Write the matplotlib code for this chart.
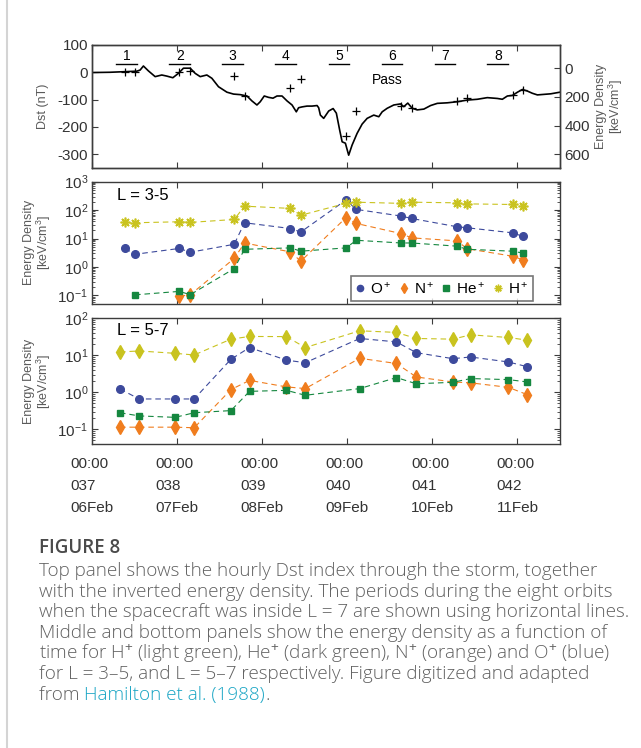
import numpy as np
import matplotlib
matplotlib.use("Agg")
import matplotlib.pyplot as plt
from matplotlib.lines import Line2D
from matplotlib.ticker import LogLocator, NullFormatter

plt.rcParams["font.family"] = ["Liberation Sans", "DejaVu Sans"]
plt.rcParams["mathtext.fontset"] = "custom"
plt.rcParams["mathtext.rm"] = "Liberation Sans"
plt.rcParams["mathtext.it"] = "Liberation Sans:italic"
plt.rcParams["mathtext.bf"] = "Liberation Sans:bold"
plt.rcParams["axes.unicode_minus"] = False

# ---- time axis (fractional day of year, 1988) ----
day_ticks = [37, 38, 39, 40, 41, 42]
doy_labels = ["037", "038", "039", "040", "041", "042"]
date_labels = ["06Feb", "07Feb", "08Feb", "09Feb", "10Feb", "11Feb"]

# ---- Dst index (nT) ----
dst_t = [37.000, 37.208, 37.523, 37.562, 37.601, 37.660, 37.739, 37.817, 37.876,
         37.947, 38.013, 38.072, 38.151, 38.210, 38.269, 38.347, 38.406, 38.484,
         38.583, 38.661, 38.740, 38.819, 38.877, 38.936, 38.975, 39.022, 39.073,
         39.125, 39.172, 39.231, 39.290, 39.349, 39.399, 39.426, 39.466, 39.525,
         39.584, 39.643, 39.662, 39.682, 39.721, 39.780, 39.832, 39.870, 39.909,
         39.938, 39.976, 40.015, 40.055, 40.114, 40.173, 40.232, 40.310, 40.369,
         40.409, 40.468, 40.545, 40.624, 40.663, 40.710, 40.762, 40.821, 40.899,
         40.978, 41.057, 41.174, 41.292, 41.410, 41.528, 41.645, 41.763, 41.822,
         41.881, 41.940, 42.000, 42.058, 42.117, 42.175, 42.234, 42.312, 42.391,
         42.500]
dst_nt = [-1, 0, 4, 8, 23, 5, -16, -10, -14,
          -20, -4, 15, 15, -4, -16, -10, -22, -53,
          -73, -80, -82, -87, -105, -120, -108, -87, -92,
          -95, -87, -87, -105, -120, -145, -130, -127, -124,
          -124, -122, -130, -157, -169, -142, -133, -150, -212,
          -255, -260, -304, -267, -224, -190, -169, -157, -163,
          -145, -132, -120, -116, -126, -113, -132, -138, -135,
          -122, -114, -112, -108, -102, -99, -93, -96, -99,
          -87, -85, -73, -63, -69, -77, -83, -81, -79,
          -73]

# ---- orbit passes inside L = 7 ----
pass_start = [37.279, 37.907, 38.531, 39.152, 39.780, 40.409, 41.025, 41.645]
pass_end = [37.530, 38.151, 38.771, 39.399, 40.020, 40.645, 41.270, 41.893]
pass_names = ["1", "2", "3", "4", "5", "6", "7", "8"]

# ---- L = 3-5 energy densities (keV/cm^3) ----
t_mid = [37.385, 37.503, 38.025, 38.151, 38.669, 38.790, 39.329, 39.452,
         39.982, 40.106, 40.630, 40.754, 41.290, 41.407, 41.943, 42.061]
o_mid = [4.5, 2.8, 4.5, 3.3, 6.3, 36, 22.6, 17, 226, 106, 62, 51, 26, 24, 15.9, 12]
n_mid = [np.nan, np.nan, 0.095, 0.105, 2.0, 7.0, 3.4, 1.6, 54, 34, 15, 10.6, 8.3, 4.4, 2.4, 1.8]
he_mid = [np.nan, 0.105, 0.139, 0.106, 0.88, 4.2, 4.7, 3.6, 4.7, 8.7, 7.0, 7.0, 5.4, 4.2, 3.6, 3.1]
h_mid = [37, 36, 39, 37, 47, 138, 115, 66, 173, 190, 173, 190, 181, 166, 158, 138]

# total energy density plotted (inverted) over Dst
ed_total = [28, 24, 28, 19, 54, 193, 140, 77, 470, 298, 263, 275, 228, 205, 186, 151]

# ---- L = 5-7 energy densities (keV/cm^3) ----
t_bot = [37.326, 37.550, 37.974, 38.198, 38.630, 38.849, 39.282, 39.505,
         40.145, 40.577, 40.809, 41.240, 41.449, 41.893, 42.117]
h_bot = [12.3, 13.1, 11.3, 10.2, 27.3, 32.3, 32, 16.2, 46, 41.5, 28.5, 27.3, 35.7, 30.3, 25.6]
o_bot = [1.23, 0.66, 0.66, 0.66, 7.8, 16.2, 7.4, 6.3, 28.5, 23, 11.8, 8.1, 9.0, 6.6, 4.9]
n_bot = [0.114, 0.114, 0.114, 0.11, 1.18, 2.1, 1.4, 1.26, 8.3, 6.0, 2.6, 1.9, 1.8, 1.36, 0.86]
he_bot = [0.28, 0.23, 0.21, 0.28, 0.32, 1.06, 1.13, 0.83, 1.26, 2.5, 1.7, 1.86, 2.35, 2.2, 1.9]

C_O = "#3d4a9c"
C_N = "#f07d1e"
C_HE = "#15873f"
C_H = "#c9c31f"
AX_COL = "#3c3c3c"
LBL_COL = "#5a5a5a"

XLIM = (37.0, 42.5)
DASH = (5, 3.5)

fig = plt.figure(figsize=(6.41, 7.48), dpi=100)
W, H = 641.0, 748.0


def rect(x0, x1, top, bottom):
    return [x0 / W, 1 - bottom / H, (x1 - x0) / W, (bottom - top) / H]


def style(ax, right=True):
    for s in ax.spines.values():
        s.set_color(AX_COL)
        s.set_linewidth(1.0)
    ax.tick_params(which="both", direction="in", top=True, right=right,
                   color=AX_COL, labelcolor="#333333", labelsize=11, pad=3)
    ax.tick_params(which="major", length=4)
    ax.tick_params(which="minor", length=2)
    ax.set_xlim(*XLIM)
    ax.set_xticks(day_ticks)


ax0 = fig.add_axes(rect(92.3, 560, 45, 168))
ax1 = fig.add_axes(rect(92.3, 560, 181.7, 304))
ax2 = fig.add_axes(rect(92.3, 560, 318.3, 444))

# ---------- top: Dst and inverted energy density ----------
style(ax0, right=False)
ax0.plot(dst_t, dst_nt, color="black", lw=1.2)
ax0.set_ylim(-351, 100)
ax0.set_yticks([100, 0, -100, -200, -300])
ax0.set_xticklabels([])
ax0.set_ylabel("Dst (nT)", color=LBL_COL, fontsize=9, labelpad=6)

for s, e, name in zip(pass_start, pass_end, pass_names):
    ax0.plot([s, e], [29, 29], color="black", lw=1.0)
    ax0.text((s + e) / 2, 61, name, ha="center", va="center", fontsize=10)
ax0.text(40.47, -28, "Pass", ha="center", va="center", fontsize=10)

ax0r = ax0.twinx()
ax0r.plot(t_mid, ed_total, ls="none", marker="+", ms=6, mew=0.9, color="black")
ax0r.set_ylim(696, -162)
ax0r.set_yticks([0, 200, 400, 600])
for s in ax0r.spines.values():
    s.set_color(AX_COL)
    s.set_linewidth(1.0)
ax0r.tick_params(direction="in", length=4, color=AX_COL, labelcolor="#333333",
                 labelsize=11, pad=3)
ax0r.set_ylabel("Energy Density\n[keV/cm$^3$]", color=LBL_COL, fontsize=9,
                rotation=90, labelpad=4, linespacing=1.0)

# ---------- middle: L = 3-5 ----------
style(ax1)
line_kw = dict(lw=0.8, dashes=DASH)
ax1.plot(t_mid, o_mid, color=C_O, marker="o", ms=5.5, mfc=C_O, mec=C_O, **line_kw)
ax1.plot(t_mid, n_mid, color=C_N, marker="d", ms=7, mfc=C_N, mec=C_N, **line_kw)
ax1.plot(t_mid, he_mid, color=C_HE, marker="s", ms=4.6, mfc=C_HE, mec=C_HE, **line_kw)
ax1.plot(t_mid, h_mid, color=C_H, marker=(8, 2, 0), ms=7, mew=1.2, mec=C_H, **line_kw)
ax1.set_yscale("log")
ax1.set_ylim(0.05, 1000)
ax1.yaxis.set_major_locator(LogLocator(base=10, numticks=10))
ax1.yaxis.set_minor_locator(LogLocator(base=10, subs=np.arange(2, 10), numticks=10))
ax1.yaxis.set_minor_formatter(NullFormatter())
ax1.set_xticklabels([])
ax1.set_ylabel("Energy Density\n[keV/cm$^3$]", color=LBL_COL, fontsize=9,
               linespacing=1.0, labelpad=3)
ax1.text(0.052, 0.89, "L = 3-5", transform=ax1.transAxes, fontsize=12,
         ha="left", va="center")

handles = [
    Line2D([], [], ls="none", marker="o", ms=4.5, color=C_O),
    Line2D([], [], ls="none", marker="d", ms=5.5, color=C_N),
    Line2D([], [], ls="none", marker="s", ms=4, color=C_HE),
    Line2D([], [], ls="none", marker=(8, 2, 0), ms=5.5, mew=1.0, color=C_H),
]
leg = ax1.legend(handles, ["O$^+$", "N$^+$", "He$^+$", "H$^+$"], ncol=4,
                 loc="lower right", bbox_to_anchor=(0.942, 0.022),
                 borderaxespad=0, fontsize=11, frameon=True, fancybox=False,
                 handlelength=0.6, handletextpad=0.35, columnspacing=0.5,
                 borderpad=0.3)
leg.get_frame().set_edgecolor("#555555")
leg.get_frame().set_linewidth(1.2)

# ---------- bottom: L = 5-7 ----------
style(ax2)
ax2.plot(t_bot, h_bot, color=C_H, marker="d", ms=7, mfc=C_H, mec=C_H, **line_kw)
ax2.plot(t_bot, o_bot, color=C_O, marker="o", ms=5.5, mfc=C_O, mec=C_O, **line_kw)
ax2.plot(t_bot, n_bot, color=C_N, marker="d", ms=7, mfc=C_N, mec=C_N, **line_kw)
ax2.plot(t_bot, he_bot, color=C_HE, marker="s", ms=4.6, mfc=C_HE, mec=C_HE, **line_kw)
ax2.set_yscale("log")
ax2.set_ylim(0.04, 100)
ax2.yaxis.set_major_locator(LogLocator(base=10, numticks=10))
ax2.yaxis.set_minor_locator(LogLocator(base=10, subs=np.arange(2, 10), numticks=10))
ax2.yaxis.set_minor_formatter(NullFormatter())
ax2.set_ylabel("Energy Density\n[keV/cm$^3$]", color=LBL_COL, fontsize=9,
               linespacing=1.0, labelpad=3)
ax2.text(0.052, 0.90, "L = 5-7", transform=ax2.transAxes, fontsize=12,
         ha="left", va="center")

xlabels = [f"00:00\n{d}\n{m}" for d, m in zip(doy_labels, date_labels)]
ax2.set_xticklabels(xlabels, linespacing=1.75)
ax2.tick_params(axis="x", pad=9)
for lbl in ax2.get_xticklabels():
    lbl.set_multialignment("left")

fig.align_ylabels([ax0, ax1, ax2])

# ---------- caption block ----------
fig.add_artist(Line2D([7 / W, 7 / W], [0, 1], color="#d4d4d4", lw=1.5))

cap_font = ["Open Sans", "DejaVu Sans"]
cap_col = "#606060"
cap_size = 13.6
fig.text(39 / W, 1 - 548 / H, "FIGURE 8", fontsize=13.5, fontweight="semibold",
         color="#4a4a4a", family=cap_font, va="center")
caption = [
    "Top panel shows the hourly Dst index through the storm, together",
    "with the inverted energy density. The periods during the eight orbits",
    "when the spacecraft was inside L = 7 are shown using horizontal lines.",
    "Middle and bottom panels show the energy density as a function of",
    "time for H$^{+}$ (light green), He$^{+}$ (dark green), N$^{+}$ (orange) and O$^{+}$ (blue)",
    "for L = 3\u20135, and L = 5\u20137 respectively. Figure digitized and adapted",
]
y0 = 571
for i, line in enumerate(caption):
    fig.text(39 / W, 1 - (y0 + 20.6 * i) / H, line, fontsize=cap_size, color=cap_col,
             family=cap_font, fontweight="light", va="center")
y_last = 1 - (y0 + 20.6 * len(caption)) / H
t_from = fig.text(39 / W, y_last, "from ", fontsize=cap_size, color=cap_col,
                  family=cap_font, fontweight="light", va="center")
fig.canvas.draw()
bb = t_from.get_window_extent()
t_ref = fig.text(bb.x1 / W, y_last, "Hamilton et al. (1988)", fontsize=cap_size,
                 color="#19a5c4", family=cap_font, fontweight="light", va="center")
fig.canvas.draw()
bb2 = t_ref.get_window_extent()
fig.text(bb2.x1 / W, y_last, ".", fontsize=cap_size, color=cap_col,
         family=cap_font, fontweight="light", va="center")

fig.savefig("out.png", dpi=100)
